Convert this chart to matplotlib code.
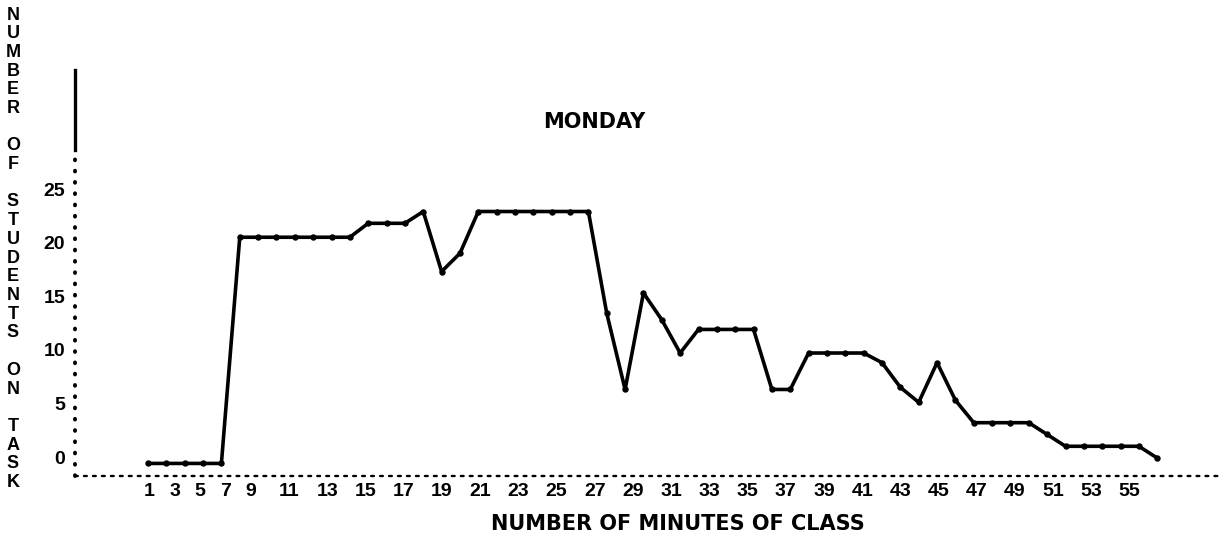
import numpy as np
import matplotlib.pyplot as plt

# number of students on task, one reading per minute of class
minutes = np.arange(1, 57)
on_task = [-0.6, -0.6, -0.6, -0.6, -0.6,
           20.5, 20.5, 20.5, 20.5, 20.5, 20.5, 20.5,
           21.8, 21.8, 21.8,
           22.9, 17.3, 19.0,
           22.9, 22.9, 22.9, 22.9, 22.9, 22.9, 22.9,
           13.4, 6.3, 15.3, 12.8, 9.7,
           11.9, 11.9, 11.9, 11.9,
           6.3, 6.3,
           9.7, 9.7, 9.7, 9.7,
           8.8, 6.5, 5.1, 8.8, 5.3,
           3.2, 3.2, 3.2, 3.2,
           2.1,
           1.0, 1.0, 1.0, 1.0, 1.0,
           -0.1]

minute_ticks = list(range(1, 56, 2))
y_ticks = [0, 5, 10, 15, 20, 25]
y_label = "NUMBER OF STUDENTS ON TASK"

W, H = 1222, 537
fig = plt.figure(figsize=(W / 100, H / 100), dpi=100)
ax = fig.add_axes([75 / W, 61 / H, 1 - 75 / W, 406 / H])

ax.plot(minutes, on_task, color="black", lw=2.6, marker="o", ms=3.6,
        solid_joinstyle="round", solid_capstyle="round")
ax.set_xlim(1 - 73 / 18.35, 1 + 1074 / 18.35)
ax.set_ylim((457 - 476) / 10.72, (457 - 70) / 10.72)

for s in ax.spines.values():
    s.set_visible(False)
ax.set_xticks([])
ax.set_yticks(y_ticks)
ax.set_yticklabels([str(v) for v in y_ticks], fontsize=14,
                   fontweight="bold", family="Liberation Sans")
ax.tick_params(axis="y", length=0, pad=7)

# hand drawn axes: dotted lines, solid top part of the y axis
ax.plot([0, 0], [0, 0.803], transform=ax.transAxes, clip_on=False,
        color="black", lw=2.8, dash_capstyle="round", ls=(0, (0.2, 2.7)))
ax.plot([0, 0], [0.803, 1], transform=ax.transAxes, clip_on=False,
        color="black", lw=2.4)
ax.plot([0, 1], [0, 0], transform=ax.transAxes, clip_on=False,
        color="black", lw=1.7, dash_capstyle="round", ls=(0, (1.2, 2.6)))


# minute labels are spaced unevenly on the original sheet
def fwd(m):
    m = np.asarray(m, dtype=float)
    return np.where(m <= 9, 149 + (m - 1) * 12.75, 251 + (m - 9) * 19.1)


def inv(p):
    p = np.asarray(p, dtype=float)
    return np.where(p <= 251, 1 + (p - 149) / 12.75, 9 + (p - 251) / 19.1)


ax2 = ax.twiny()
ax2.set_xscale("function", functions=(fwd, inv))
ax2.set_xlim(float(inv(75)), float(inv(1222)))
ax2.xaxis.set_ticks_position("bottom")
ax2.set_xticks(minute_ticks)
ax2.set_xticklabels([str(m) for m in minute_ticks], fontsize=14,
                    fontweight="bold", family="Liberation Sans")
ax2.xaxis.set_minor_locator(plt.NullLocator())
ax2.tick_params(axis="x", length=0, pad=5)
for s in ax2.spines.values():
    s.set_visible(False)

fig.text(594 / W, 1 - 122 / H, "MONDAY", ha="center", va="center",
         fontsize=15, fontweight="bold", family="DejaVu Sans")
fig.text(678 / W, 1 - 524 / H, "NUMBER OF MINUTES OF CLASS", ha="center",
         va="center", fontsize=15, fontweight="bold", family="DejaVu Sans")

# stacked letters of the y axis title, a blank row between words
rows = []
for i, word in enumerate(y_label.split(" ")):
    if i:
        rows.append("")
    rows.extend(list(word))
for i, ch in enumerate(rows):
    fig.text(13 / W, 1 - (15 + i * 18.7) / H, ch, ha="center", va="center",
             fontsize=13, fontweight="bold", family="Liberation Sans")

fig.savefig("out.png", dpi=100)
